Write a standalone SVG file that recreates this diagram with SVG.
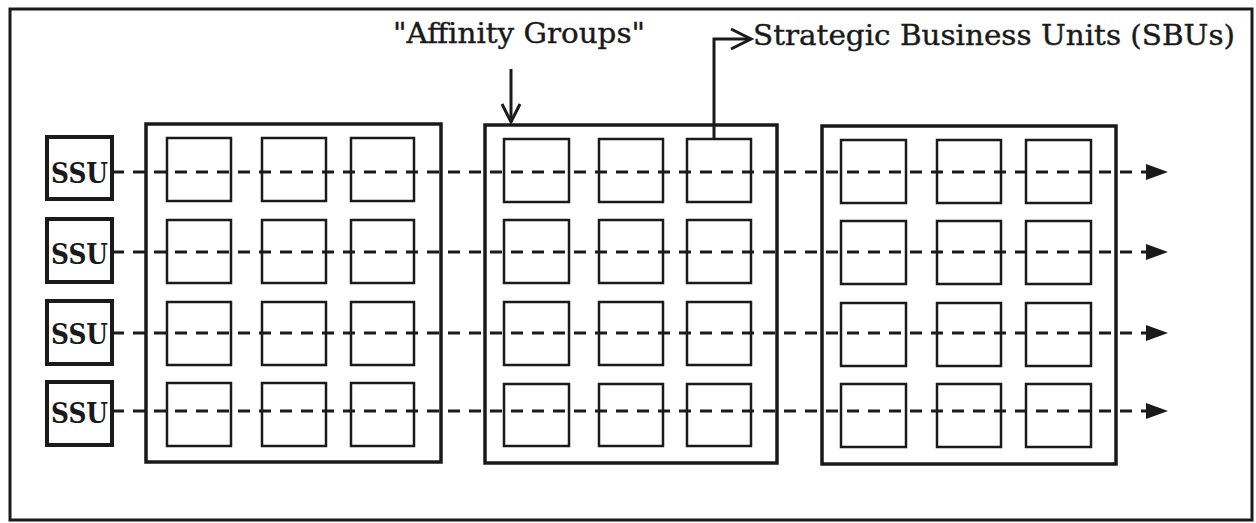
<svg xmlns="http://www.w3.org/2000/svg" width="1256" height="523" viewBox="0 0 1256 523">
  <style>
    .frame { fill: none; stroke: #1a1a1a; stroke-width: 3; }
    .group { fill: none; stroke: #1a1a1a; stroke-width: 3.5; }
    .cell { fill: none; stroke: #1a1a1a; stroke-width: 2.5; }
    .ssu { fill: none; stroke: #1a1a1a; stroke-width: 4; }
    .ssu-label { font-family: "DejaVu Serif", "Liberation Serif", serif; font-weight: bold; font-size: 28px; fill: #1a1a1a; }
    .label { font-family: "DejaVu Serif", "Liberation Serif", serif; font-size: 28px; fill: #1a1a1a; stroke: #1a1a1a; stroke-width: 0.4; }
    .flow { fill: none; stroke: #1a1a1a; stroke-width: 3.2; stroke-dasharray: 12 9; }
    .pointer { fill: none; stroke: #1a1a1a; stroke-width: 3; }
    .head { fill: #1a1a1a; }
  </style>

  <rect width="1256" height="523" fill="#ffffff"/>
  <rect class="frame" x="10" y="9" width="1242" height="511"/>

  <!-- strategic support units -->
  <g id="ssu-1"><rect class="ssu" x="47" y="137" width="65" height="62"/><text class="ssu-label" x="51" y="183" textLength="57" lengthAdjust="spacingAndGlyphs">SSU</text></g>
  <g id="ssu-2"><rect class="ssu" x="47" y="219" width="65" height="63"/><text class="ssu-label" x="51" y="264" textLength="57" lengthAdjust="spacingAndGlyphs">SSU</text></g>
  <g id="ssu-3"><rect class="ssu" x="47" y="301" width="65" height="63"/><text class="ssu-label" x="51" y="344" textLength="57" lengthAdjust="spacingAndGlyphs">SSU</text></g>
  <g id="ssu-4"><rect class="ssu" x="47" y="382" width="65" height="63"/><text class="ssu-label" x="51" y="423" textLength="57" lengthAdjust="spacingAndGlyphs">SSU</text></g>

  <!-- affinity group 1 -->
  <g id="group-1">
    <rect class="group" x="146" y="124" width="295" height="338"/>
    <rect class="cell" x="167" y="138" width="64" height="63"/><rect class="cell" x="262" y="138" width="64" height="63"/><rect class="cell" x="351" y="138" width="63" height="63"/>
    <rect class="cell" x="167" y="220" width="64" height="63"/><rect class="cell" x="262" y="220" width="64" height="63"/><rect class="cell" x="351" y="220" width="63" height="63"/>
    <rect class="cell" x="167" y="302" width="64" height="63"/><rect class="cell" x="262" y="302" width="64" height="63"/><rect class="cell" x="351" y="302" width="63" height="63"/>
    <rect class="cell" x="167" y="383" width="64" height="63"/><rect class="cell" x="262" y="383" width="64" height="63"/><rect class="cell" x="351" y="383" width="63" height="63"/>
  </g>

  <!-- affinity group 2 -->
  <g id="group-2">
    <rect class="group" x="485" y="125" width="292" height="338"/>
    <rect class="cell" x="504" y="139" width="65" height="63"/><rect class="cell" x="599" y="139" width="64" height="63"/><rect class="cell" x="687" y="139" width="64" height="63"/>
    <rect class="cell" x="504" y="220" width="65" height="63"/><rect class="cell" x="599" y="220" width="64" height="63"/><rect class="cell" x="687" y="220" width="64" height="63"/>
    <rect class="cell" x="504" y="302" width="65" height="63"/><rect class="cell" x="599" y="302" width="64" height="63"/><rect class="cell" x="687" y="302" width="64" height="63"/>
    <rect class="cell" x="504" y="384" width="65" height="62"/><rect class="cell" x="599" y="384" width="64" height="62"/><rect class="cell" x="687" y="384" width="64" height="62"/>
  </g>

  <!-- affinity group 3 -->
  <g id="group-3">
    <rect class="group" x="822" y="126" width="294" height="338"/>
    <rect class="cell" x="841" y="140" width="65" height="63"/><rect class="cell" x="937" y="140" width="64" height="63"/><rect class="cell" x="1026" y="140" width="65" height="63"/>
    <rect class="cell" x="841" y="221" width="65" height="63"/><rect class="cell" x="937" y="221" width="64" height="63"/><rect class="cell" x="1026" y="221" width="65" height="63"/>
    <rect class="cell" x="841" y="303" width="65" height="63"/><rect class="cell" x="937" y="303" width="64" height="63"/><rect class="cell" x="1026" y="303" width="65" height="63"/>
    <rect class="cell" x="841" y="384" width="65" height="63"/><rect class="cell" x="937" y="384" width="64" height="63"/><rect class="cell" x="1026" y="384" width="65" height="63"/>
  </g>

  <!-- labels -->
  <g id="label-affinity"><text class="label" x="393" y="43" textLength="252" lengthAdjust="spacingAndGlyphs">"Affinity Groups"</text></g>
  <g id="label-sbu"><text class="label" x="753" y="45" textLength="482" lengthAdjust="spacingAndGlyphs">Strategic Business Units (SBUs)</text></g>

  <!-- connectors -->
  <g id="connectors">
    <line class="flow" x1="112" y1="172" x2="1149" y2="172"/>
    <line class="flow" x1="112" y1="252" x2="1149" y2="252"/>
    <line class="flow" x1="112" y1="333" x2="1149" y2="333"/>
    <line class="flow" x1="112" y1="411" x2="1149" y2="411"/>
    <polygon class="head" points="1146,164 1168,172 1146,180"/>
    <polygon class="head" points="1146,244 1168,252 1146,260"/>
    <polygon class="head" points="1146,325 1168,333 1146,341"/>
    <polygon class="head" points="1146,403 1168,411 1146,419"/>

    <line class="pointer" x1="511" y1="69" x2="511" y2="122"/>
    <polyline class="pointer" points="502,104 511,122 520,104"/>

    <polyline class="pointer" points="714,140 714,39 751,39"/>
    <polyline class="pointer" points="731,29 751,39 731,49"/>
  </g>
</svg>
